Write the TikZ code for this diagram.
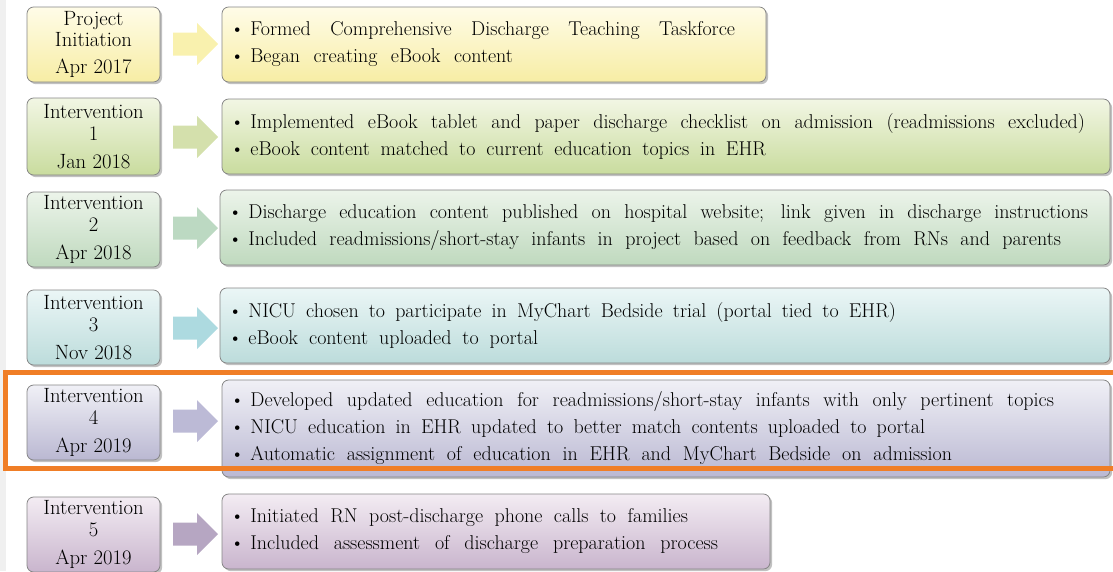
\documentclass[tikz,border=0pt]{standalone}
\usetikzlibrary{shadows}
\definecolor{yelT}{HTML}{FFFCE8}\definecolor{yelB}{HTML}{F7EDA4}\definecolor{yelA}{HTML}{F9F1AE}
\definecolor{limT}{HTML}{F2F6E4}\definecolor{limB}{HTML}{C9DC9E}\definecolor{limA}{HTML}{D4E0AC}
\definecolor{grnT}{HTML}{ECF4EA}\definecolor{grnB}{HTML}{BFD9BE}\definecolor{grnA}{HTML}{BCD9C2}
\definecolor{tealT}{HTML}{EBF6F6}\definecolor{tealB}{HTML}{BCDCDB}\definecolor{tealA}{HTML}{ADDAE0}
\definecolor{lavT}{HTML}{F0F0F6}\definecolor{lavB}{HTML}{BAB8D2}\definecolor{lavA}{HTML}{BCBAD6}
\definecolor{purT}{HTML}{F3ECF3}\definecolor{purB}{HTML}{C9B5CD}\definecolor{purA}{HTML}{B6A6C2}
\definecolor{frame}{HTML}{858585}
\definecolor{hilite}{HTML}{F07E26}
% a bullet line spread to a given width (in px of the drawing grid)
\newcommand\fitline[2]{\makebox[\dimexpr #1pt*3/4\relax][s]{%
  \spaceskip=0.3em plus 10em minus 0.08em\relax\textbullet\kern 4.5pt#2}}
\newcommand\blockarrow[2]{%
  \fill[#2] (173,#1-11.5) -- (197,#1-11.5) -- (197,#1-21) -- (218,#1) -- (197,#1+21)
    -- (197,#1+11.5) -- (173,#1+11.5) -- cycle;}
\tikzset{
  box/.style={draw=frame, line width=0.6pt, rounded corners=5pt,
    drop shadow={shadow xshift=1.6pt, shadow yshift=-1.6pt, opacity=0.35, fill=black!70}},
  datebox/.style={box, align=center, inner sep=0pt, minimum width=99.75pt,
    font=\fontsize{15.5}{16}\selectfont},
  stepbox/.style={box, align=left, inner xsep=6pt, inner ysep=0pt,
    font=\fontsize{15}{20.25}\selectfont},
}
\begin{document}
\begin{tikzpicture}[x=0.75pt,y=-0.75pt]
\useasboundingbox (0,0) rectangle (1113,571);
\clip (0,0) rectangle (1113,571);
\fill[black!6] (0,0) rectangle (6,571);

% stage 0: project initiation
\node[datebox, minimum height=56.25pt, top color=yelT, bottom color=yelB] (d0) at (93.5,44.5)
  {Project\\Initiation\\[4pt]Apr 2017};
\node[stepbox, minimum height=56.25pt, text width=396pt, top color=yelT, bottom color=yelB] (s0) at (494,44.5)
  {\fitline{505}{Formed Comprehensive Discharge Teaching Taskforce}\\
   \fitline{283}{Began creating eBook content}};
\blockarrow{44}{yelA}

% stage 1
\node[datebox, minimum height=57.75pt, top color=limT, bottom color=limB] (d1) at (93.5,136.5)
  {Intervention\\1\\[5pt]Jan 2018};
\node[stepbox, minimum height=56.25pt, text width=654pt, top color=limT, bottom color=limB] (s1) at (666,136.5)
  {\fitline{855}{Implemented eBook tablet and paper discharge checklist on admission (readmissions excluded)}\\
   \fitline{536}{eBook content matched to current education topics in EHR}};
\blockarrow{137}{limA}

% stage 2
\node[datebox, minimum height=56.25pt, top color=grnT, bottom color=grnB] (d2) at (93.5,229.5)
  {Intervention\\2\\[5pt]Apr 2018};
\node[stepbox, minimum height=56.25pt, text width=655.5pt, top color=grnT, bottom color=grnB] (s2) at (665,227.5)
  {\fitline{860}{Discharge education content published on hospital website; link given in discharge instructions}\\
   \fitline{833}{Included readmissions/short-stay infants in project based on feedback from RNs and parents}};
\blockarrow{228}{grnA}

% stage 3
\node[datebox, minimum height=56.25pt, top color=tealT, bottom color=tealB] (d3) at (93.5,327.5)
  {Intervention\\3\\[5pt]Nov 2018};
\node[stepbox, minimum height=56.25pt, text width=655.5pt, top color=tealT, bottom color=tealB] (s3) at (665,325.5)
  {\fitline{668}{NICU chosen to participate in MyChart Bedside trial (portal tied to EHR)}\\
   \fitline{310}{eBook content uploaded to portal}};
\blockarrow{328}{tealA}

% stage 4
\node[datebox, minimum height=56.25pt, top color=lavT, bottom color=lavB] (d4) at (93.5,422.5)
  {Intervention\\4\\[5pt]Apr 2019};
\node[stepbox, minimum height=72.75pt, text width=654pt, top color=lavT, bottom color=lavB] (s4) at (666,428.5)
  {\fitline{824}{Developed updated education for readmissions/short-stay infants with only pertinent topics}\\
   \fitline{695}{NICU education in EHR updated to better match contents uploaded to portal}\\
   \fitline{722}{Automatic assignment of education in EHR and MyChart Bedside on admission}};
\blockarrow{421}{lavA}

% stage 5
\node[datebox, minimum height=56.25pt, top color=purT, bottom color=purB] (d5) at (93.5,534.5)
  {Intervention\\5\\[5pt]Apr 2019};
\node[stepbox, minimum height=56.25pt, text width=399pt, top color=purT, bottom color=purB] (s5) at (496,531.5)
  {\fitline{458}{Initiated RN post-discharge phone calls to families}\\
   \fitline{488}{Included assessment of discharge preparation process}};
\blockarrow{534}{purA}

% highlight around stage 4
\draw[hilite, line width=3.75pt] (5,372) rectangle (1125,468);
\end{tikzpicture}
\end{document}
